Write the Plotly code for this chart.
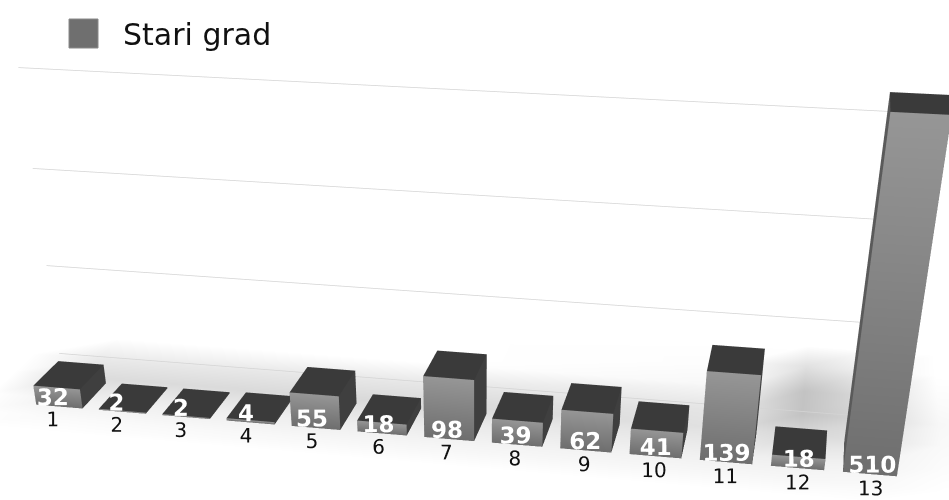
import plotly.graph_objects as go

categories = ["1","2","3","4","5","6","7","8","9","10","11","12","13"]
values = [32,2,2,4,55,18,98,39,62,41,139,18,510]
grid_levels = [0,150,306,458]
legend_name = "Stari grad"

FIG_W, FIG_H = 949, 1425
BAR_W, D_FRONT, D_BACK, D_WALL = 0.74, 0.30, 0.975, 1.66
TOP, FRONT, FRONT2, SIDE = "#3a3a3a", "#969696", "#6e6e6e", "#3f3f3f"
LIGHT = dict(ambient=1,diffuse=0,specular=0,roughness=1,fresnel=0)

floor_x = [-0.2,0.9,6,11,12,13,14,15.5]
floor_y = [-0.3,0.05,0.5,1.1,1.6,2.2,2.9,3.5]
floor_dark = [
    [0,0,0,0,0,0,0,0],
    [0,5,8,8,8,6,0,0],
    [0,14,18,16,16,12,3,0],
    [0,35,38,30,40,30,6,0],
    [0,22,25,25,60,40,8,0],
    [0,0,0,8,60,35,4,0],
    [0,0,0,2,30,15,0,0],
    [0,0,0,0,0,0,0,0],
]

def quad(vs, cols, X, Y, Z, I, J, K, C):
    n = len(X)
    for (a,b,c),col in zip(vs, cols):
        X.append(a);Y.append(b);Z.append(c);C.append(col)
    I += [n,n]; J += [n+1,n+2]; K += [n+2,n+3]

def grey(d):
    g = int(max(0,min(255,255-d)))
    return f"rgb({g},{g},{g})"

fig = go.Figure()
X,Y,Z,I,J,K,C=[],[],[],[],[],[],[]
for r in range(len(floor_y)-1):
    for q in range(len(floor_x)-1):
        quad([(floor_x[q],floor_y[r],0),(floor_x[q+1],floor_y[r],0),(floor_x[q+1],floor_y[r+1],0),(floor_x[q],floor_y[r+1],0)],
             [grey(floor_dark[r][q]),grey(floor_dark[r][q+1]),grey(floor_dark[r+1][q+1]),grey(floor_dark[r+1][q])],X,Y,Z,I,J,K,C)
fig.add_trace(go.Mesh3d(x=X,y=Y,z=Z,i=I,j=J,k=K,vertexcolor=C,hoverinfo="skip",flatshading=True,lighting=LIGHT))

for lv in grid_levels:
    fig.add_trace(go.Scatter3d(x=[0.2,13.0],y=[D_WALL,D_WALL],z=[lv+1,lv+1],mode="lines",
        line=dict(color="#d4d4d4",width=1.5),hoverinfo="skip"))

for n,v in enumerate(values):
    c=n+1; x0,x1=c-BAR_W/2,c+BAR_W/2; y0,y1=D_FRONT,D_BACK
    X,Y,Z,I,J,K,C=[],[],[],[],[],[],[]
    quad([(x0,y0,0),(x1,y0,0),(x1,y0,v),(x0,y0,v)],[FRONT2,FRONT2,FRONT,FRONT],X,Y,Z,I,J,K,C)
    quad([(x0,y0,v),(x1,y0,v),(x1,y1,v),(x0,y1,v)],[TOP]*4,X,Y,Z,I,J,K,C)
    quad([(x1,y0,0),(x1,y1,0),(x1,y1,v),(x1,y0,v)],[SIDE]*4,X,Y,Z,I,J,K,C)
    quad([(x0,y0,0),(x0,y1,0),(x0,y1,v),(x0,y0,v)],["#5a5a5a"]*4,X,Y,Z,I,J,K,C)
    fig.add_trace(go.Mesh3d(x=X,y=Y,z=Z,i=I,j=J,k=K,vertexcolor=C,hoverinfo="skip",flatshading=True,lighting=LIGHT))

cats_x=list(range(1,14))
fig.add_trace(go.Scatter3d(x=[c+0.05*(13-c)/12 for c in cats_x],y=[D_FRONT-0.2]*13,z=[30]*13,mode="text",text=[str(v) for v in values],
    textfont=dict(family="DejaVu Sans",size=23,color="white",weight="bold"),textposition="middle center",hoverinfo="skip"))
fig.add_trace(go.Scatter3d(x=[c+0.19*(13-c)/12 for c in cats_x],y=[D_FRONT-0.47]*13,z=[12]*13,mode="text",text=categories,
    textfont=dict(family="DejaVu Sans",size=20,color="#111111"),textposition="middle center",hoverinfo="skip"))

ax=dict(visible=False,showgrid=False,zeroline=False,showspikes=False)
fig.update_layout(width=FIG_W,height=FIG_H,margin=dict(l=0,r=0,t=0,b=0),showlegend=False,paper_bgcolor="white",
    scene=dict(domain=dict(x=[0,1],y=[0,1]),
        xaxis=dict(ax,range=[-2,16]),yaxis=dict(ax,range=[-0.4,3.6]),zaxis=dict(ax,range=[0,700]),
        aspectmode="manual",aspectratio=dict(x=4.29,y=1.36,z=1.61),
        camera=dict(eye=dict(x=1.13,y=-5.79,z=1.737),center=dict(x=0.41,y=-2.09,z=-0.803),up=dict(x=0,y=0,z=1))),
    shapes=[dict(type="rect",xref="paper",yref="paper",x0=69/FIG_W,x1=98/FIG_W,y0=1-48/FIG_H,y1=1-19/FIG_H,
        fillcolor="#6f6f6f",line=dict(color="#8a8a8a",width=1))],
    annotations=[dict(text=legend_name,xref="paper",yref="paper",x=120.5/FIG_W,y=1-34/FIG_H,xanchor="left",yanchor="middle",
        showarrow=False,font=dict(family="DejaVu Sans",size=30,color="#111111"))])
fig.write_html("out.html",config=dict(displayModeBar=False),post_script="document.body.style.margin='0';document.documentElement.style.overflow='hidden';document.body.style.overflow='hidden';")
